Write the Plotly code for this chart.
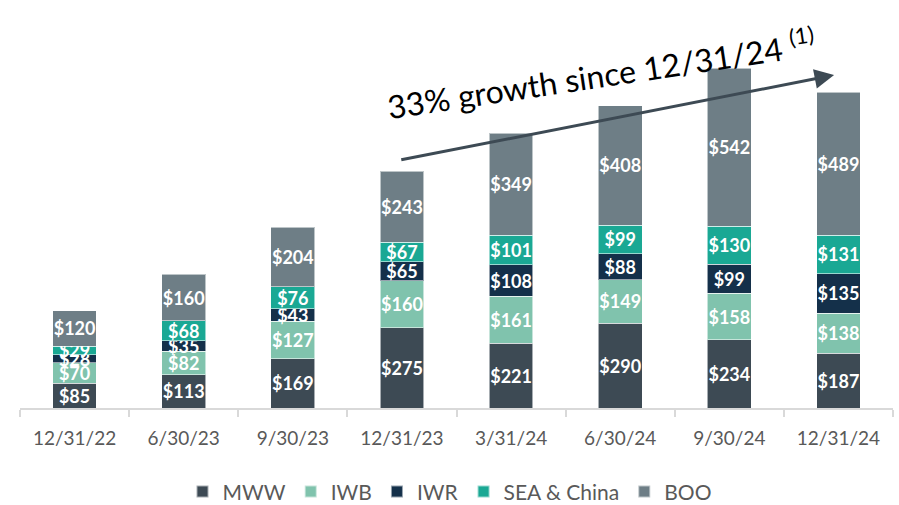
import plotly.graph_objects as go

categories = ["12/31/22", "6/30/23", "9/30/23", "12/31/23", "3/31/24", "6/30/24", "9/30/24", "12/31/24"]
mww = [85, 113, 169, 275, 221, 290, 234, 187]
iwb = [70, 82, 127, 160, 161, 149, 158, 138]
iwr = [28, 35, 43, 65, 108, 88, 99, 135]
sea = [29, 68, 76, 67, 101, 99, 130, 131]
boo = [120, 160, 204, 243, 349, 408, 542, 489]

series = [
    ("MWW", mww, "#3d4a54"),
    ("IWB", iwb, "#80c3ad"),
    ("IWR", iwr, "#14304a"),
    ("SEA & China", sea, "#1aa894"),
    ("BOO", boo, "#6e7e86"),
]

FONT = "Lato, 'Open Sans', sans-serif"

fig = go.Figure()
for name, vals, color in series:
    fig.add_trace(go.Bar(
        x=categories, y=vals, name=name,
        marker=dict(color=color, line=dict(color="rgba(255,255,255,0.55)", width=1)),
        text=[f"${v}" for v in vals],
        textposition="inside", insidetextanchor="middle",
        textangle=0,
        textfont=dict(color="white", size=18, family=FONT, weight="bold"),
        cliponaxis=False,
    ))

# growth arrow (data coordinates on category index axis)
fig.add_annotation(
    x=6.96, y=1139, ax=2.98, ay=848,
    xref="x", yref="y", axref="x", ayref="y",
    showarrow=True, arrowhead=2, arrowsize=1.3, arrowwidth=3,
    arrowcolor="#3d4a54", text="",
)
fig.add_annotation(
    x=0.665, y=0.91, xref="paper", yref="paper",
    xanchor="center", yanchor="middle",
    text="33% growth since 12/31/24 <sup>(1)</sup>",
    showarrow=False, textangle=-8.5,
    font=dict(size=32, color="#000000", family=FONT),
)

fig.update_layout(
    width=899, height=505,
    barmode="stack", bargap=0.6,
    margin=dict(l=20, r=6, t=40, b=97),
    plot_bgcolor="white", paper_bgcolor="white",
    uniformtext=dict(minsize=18, mode="show"),
    showlegend=True,
    legend=dict(orientation="h", x=0.5, xanchor="center", xref="container",
                y=0.026, yanchor="middle", yref="container",
                font=dict(size=21, color="#595959", family=FONT),
                itemsizing="constant", traceorder="normal"),
    xaxis=dict(showline=True, linecolor="#d9d9d9", linewidth=1.5,
               ticks="outside", tickson="boundaries", ticklen=7, tickcolor="#d9d9d9",
               tickwidth=1.5, ticklabelstandoff=12,
               tickfont=dict(size=19, color="#595959", family=FONT)),
    yaxis=dict(visible=False, range=[0, 1259]),
)

fig.write_html("out.html")
